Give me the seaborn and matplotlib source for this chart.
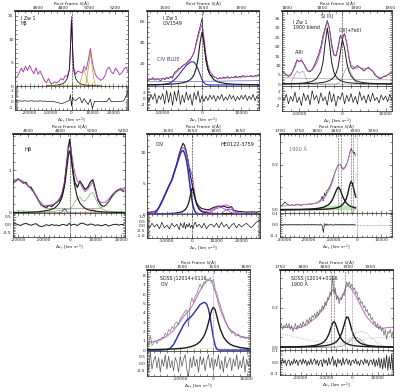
"""
Spectral fits of Hbeta, CIV 1549 and the 1900 A blend for I Zw 1,
HE0122-3759 and SDSS J12014+0116 (data + components + residuals).
"""

import numpy as np
import matplotlib
matplotlib.use("Agg")
import matplotlib.pyplot as plt
import seaborn as sns
from matplotlib.ticker import AutoMinorLocator

sns.set_theme(style="ticks")
plt.rcParams['font.family'] = ['DejaVu Sans']
plt.rcParams['axes.unicode_minus'] = False

C_KMS = 299792.458
FIG_W, FIG_H = 400, 392
TICK_FS = 3.2
LABEL_FS = 3.2
MAG = '#b044b8'
MAG_LIGHT = '#c47ac8'
BLUE = '#2a2ab8'
GREEN = '#6cc45c'
OLIVE = '#b8a030'
ORANGE = '#e8902a'
GRAY = '#8c8c8c'

# ---------------- I Zw 1, Hbeta ----------------
P1_V = np.r_[np.arange(-27000, 0, 1000), -500, 0, 500, np.arange(1000, 27001, 1000)]
P1_FLUX = [1.5, 2.0, 2.8, 3.8, 3.0, 4.2, 3.3, 4.4, 3.4, 2.6,
           3.9, 2.5, 3.2, 2.2, 1.2, 0.7, 1.6, 0.6, 0.5, 0.9,
           0.7, 1.0, 1.6, 1.3, 2.2, 2.0, 3.5,
           8.5, 14.8, 8.5,
           4.0, 2.5, 3.2, 3.0, 2.8, 4.2, 3.4, 5.5, 8.0, 5.0,
           3.0, 2.0, 1.6, 1.2, 1.5, 2.2, 3.6, 4.0, 3.0, 2.6,
           3.8, 3.2, 2.4, 2.8, 3.6, 4.0, 3.0]
P1_RES = [0.2, 0.15, 0.2, 0.1, 0.15, 0.2, 0.1, 0.15, 0.2, 0.1,
          0.15, 0.1, 0.2, 0.1, 0.15, 0.05, 0.1, 0.05, 0.1, 0.0,
          -0.1, -0.2, -0.3, -0.25, -0.1, 0.1, 0.3,
          1.3, -0.8, 0.9,
          0.4, 0.2, 0.6, 0.8, -0.2, 0.6, 0.0, -0.5, 0.5, -1.2,
          0.1, 0.05, 0.1, 0.05, 0.0, 0.05, 0.1, 0.7, 0.05, 0.0,
          0.05, 0.1, 0.05, 0.1, 0.2, 1.0, 2.0]
P1_CV = [-12000, -10000, -8000, -6000, -5000, -4000, -3000, -2000, -1000, -500,
         0, 500, 1000, 2000, 3000, 4000, 5000, 6000, 7000, 8000,
         9000, 10000, 11000, 12000, 14000]
P1_BROAD = [0.09, 0.11, 0.14, 0.25, 0.35, 0.55, 0.9, 1.6, 3.5, 8.0,
            14.0, 8.0, 3.5, 1.6, 0.9, 0.55, 0.35, 0.25, 0.18, 0.14,
            0.11, 0.09, 0.08, 0.07, 0.06]
P1_OIII_A = [0] * 14 + [0.0, 0.47, 2.1, 3.5, 2.1, 0.47, 0.04, 0, 0, 0, 0]
P1_OIII_B = [0] * 17 + [0.02, 0.6, 3.7, 7.0, 3.7, 0.6, 0.03, 0]

# ---------------- I Zw 1, CIV ----------------
P2_V = np.arange(-14000, 14501, 500)
P2_FLUX = [4, 6, 5, 7, 4.5, 6, 5, 4, 6.5, 5,
           7, 6, 8, 6.5, 12, 13, 15.5, 16, 18, 19.5,
           20, 22, 23.5, 27, 31, 40, 48, 55, 63, 38,
           22, 14, 10, 9, 7.5, 7, 5.5, 7, 6, 7.5,
           6.5, 8, 6.5, 7.5, 7, 8.5, 7, 8, 7.5, 9,
           7.5, 8.5, 8, 9, 7.5, 9, 8.5, 9]
P2_RES = [0.5, -1.0, 1.2, -0.5, 1.5, -1.8, 0.8, -0.5, 1.5, -2.0,
          2.5, -1.5, 1.8, -2.5, 2.2, -1.0, 2.8, -2.2, 1.0, -1.5,
          2.0, -0.8, 1.2, -2.5, 1.8, -0.6, 2.4, -1.6, 0.8, -1.2,
          0.6, -0.8, 1.0, -0.4, 0.9, -1.1, 0.7, -0.5, 1.2, -0.9,
          0.4, -0.7, 1.1, -0.3, 0.8, -1.0, 0.5, -0.6, 0.9, -0.4,
          1.0, -0.8, 0.6, -0.5, 1.2, -0.9, 0.7, -0.3]
P2_CV = [-14000, -12000, -10000, -8000, -7000, -6000, -5000, -4000, -3000, -2500,
         -2000, -1500, -1000, -500, 0, 500, 1000, 1500, 2000, 3000,
         4000, 6000, 8000, 10000, 12000, 14500]
P2_BLUE = [0, 0, 0.3, 2, 5, 9, 14, 18.5, 21.5, 22,
           21.5, 19, 15, 10, 5, 2, 0.5, 0.1, 0, 0,
           0, 0, 0, 0, 0, 0]
P2_BC = [0.25, 0.35, 0.5, 0.77, 1.0, 1.35, 1.9, 2.9, 5.0, 6.9,
         10, 15.4, 25, 40, 50, 40, 25, 15.4, 10, 5,
         2.9, 1.35, 0.77, 0.5, 0.35, 0.23]
P2_CONT = [3.0, 3.0, 3.1, 3.1, 3.2, 3.2, 3.2, 3.3, 3.3, 3.3,
           3.3, 3.4, 3.4, 3.4, 3.4, 3.5, 3.5, 3.5, 3.5, 3.6,
           3.6, 3.7, 3.8, 3.9, 4.0, 4.1]
P2_FIT = [5, 5.5, 6, 7, 10, 14, 17.5, 20.5, 24.5, 27.5,
          31.5, 38, 45, 52, 57, 45, 28, 18.5, 13, 8,
          6, 6.5, 7, 7.5, 8, 8.5]

# ---------------- I Zw 1, 1900 blend ----------------
P3_V = np.arange(-14000, 11501, 500)
P3_FLUX = [7, 6, 5, 4, 5, 7, 10, 13, 12, 13,
           11, 9, 7, 6.5, 8, 10, 13, 16, 20, 26,
           30, 34, 30, 22, 16, 15, 20, 26, 24, 27,
           22, 14, 9, 8, 9, 10, 9, 8, 7, 8,
           9, 8, 7, 5, 4, 3, 3, 4, 4, 5,
           6, 6]
P3_RES = [0.8, -0.5, 1.2, -1.5, 0.6, -0.8, 1.8, -1.2, 0.4, -2.0,
          1.5, -0.6, 1.0, -1.8, 2.2, -0.4, 0.9, -1.4, 1.6, -0.7,
          0.5, -1.9, 2.0, -1.0, 1.3, -2.2, 0.7, -0.3, 1.7, -1.5,
          0.9, -0.8, 1.4, -1.1, 0.6, -1.6, 1.9, -0.5, 0.8, -1.3,
          1.1, -0.9, 1.5, -0.6, 0.3, -1.2, 1.0, -0.4, 0.7, -0.9,
          1.2, -0.5]
P3_CV = [-14000, -13000, -12000, -11000, -10500, -10000, -9500, -9000, -8500, -8000,
         -7000, -6000, -5000, -4500, -4000, -3500, -3000, -2500, -2000, -1500,
         -1000, -500, 0, 500, 1000, 1500, 2000, 3000, 4000, 5000,
         6000, 7000, 8000, 9000, 10000, 11500]
P3_SIIII = [0.17, 0.21, 0.26, 0.34, 0.39, 0.45, 0.52, 0.62, 0.75, 0.92,
            1.5, 2.8, 6.6, 11.7, 21.6, 30, 21.6, 11.7, 6.6, 4.1,
            2.8, 2.0, 1.5, 1.15, 0.92, 0.75, 0.62, 0.45, 0.34, 0.26,
            0.21, 0.17, 0.15, 0.12, 0.11, 0.09]
P3_CIII = [0.1, 0.11, 0.13, 0.16, 0.17, 0.19, 0.21, 0.23, 0.26, 0.3,
           0.38, 0.52, 0.74, 0.91, 1.15, 1.5, 1.9, 2.6, 3.7, 5.5,
           9.0, 16.5, 23.8, 19.1, 11.6, 6.9, 4.4, 1.9, 1.2, 0.78,
           0.52, 0.38, 0.3, 0.24, 0.2, 0.15]
P3_ALIII = [0, 0, 0.3, 5.0, 7.0, 5.6, 6.6, 6.6, 3.6, 1.0] + [0] * 26
P3_FEIII = [0] * 19 + [0.05, 0.4, 1.5, 3.7, 6.6, 8.8, 8.5, 6.0, 1.2, 0.07, 0.0] + [0] * 6
P3_CONT = [3.4, 3.3, 3.3, 3.2, 3.2, 3.2, 3.1, 3.1, 3.1, 3.0,
           3.0, 2.9, 2.9, 2.9, 2.8, 2.8, 2.8, 2.8, 2.7, 2.7,
           2.7, 2.7, 2.6, 2.6, 2.6, 2.6, 2.5, 2.5, 2.5, 2.4,
           2.4, 2.4, 2.3, 2.3, 2.3, 2.2]
P3_FIT = [7, 5, 4.8, 9, 12.5, 12, 12.5, 11, 8.5, 6.8,
          7.5, 11, 18, 24, 29, 33.5, 29, 20, 15.5, 15,
          19, 25, 26, 26.5, 22, 15, 10, 8.5, 9, 8,
          8.5, 7, 4, 3.5, 4.5, 6]

# ---------------- Hbeta (row 2) ----------------
P4_V = np.r_[np.arange(-22000, 0, 1000), -500, 0, 500, np.arange(1000, 21001, 1000)]
P4_FLUX = [0.72, 0.75, 0.8, 0.75, 0.7, 0.72, 0.62, 0.6, 0.5, 0.4,
           0.28, 0.18, 0.15, 0.13, 0.18, 0.15, 0.2, 0.25, 0.3, 0.42,
           0.7, 1.25,
           1.55, 1.72, 1.5,
           1.1, 0.72, 0.6, 0.75, 0.65, 0.55, 0.6, 0.72, 0.78, 0.55,
           0.3, 0.2, 0.15, 0.18, 0.25, 0.35, 0.45, 0.5, 0.55, 0.55,
           0.5]
P4_RES = [0.05, 0.08, 0.02, -0.03, 0.06, 0.1, 0.04, -0.02, 0.05, 0.08,
          -0.05, -0.1, -0.06, 0.02, -0.04, 0.03, -0.02, 0.0, -0.05, 0.03,
          0.02, -0.04,
          0.06, 0.1, -0.03,
          0.02, 0.05, -0.04, 0.08, 0.12, 0.05, -0.02, 0.06, 0.04, -0.03,
          0.02, -0.05, -0.02, 0.04, -0.06, -0.02, 0.03, 0.05, -0.01, 0.03,
          0.04]
P4_CV = [-22000, -20000, -18000, -16000, -14000, -12000, -10000, -8000, -6000, -5000,
         -4000, -3000, -2500, -2000, -1500, -1000, -500, 0, 500, 1000,
         1500, 2000, 3000, 4000, 5000, 6000, 7000, 8000, 9000, 10000,
         11000, 12000, 14000, 16000, 18000, 20000, 21500]
P4_BC = [0.009, 0.011, 0.014, 0.017, 0.022, 0.03, 0.046, 0.066, 0.11, 0.16,
         0.23, 0.36, 0.48, 0.63, 0.84, 1.09, 1.34, 1.45, 1.34, 1.09,
         0.84, 0.63, 0.36, 0.23, 0.16, 0.11, 0.08, 0.066, 0.055, 0.046,
         0.037, 0.03, 0.022, 0.017, 0.014, 0.011, 0.01]
P4_FEII = [0.04, 0.05, 0.05, 0.04, 0.03, 0.02, 0.02, 0.03, 0.04, 0.05,
           0.06, 0.07, 0.07, 0.08, 0.08, 0.08, 0.09, 0.1, 0.12, 0.15,
           0.2, 0.26, 0.34, 0.38, 0.3, 0.28, 0.36, 0.45, 0.48, 0.35,
           0.2, 0.12, 0.05, 0.04, 0.03, 0.03, 0.03]
P4_BLUE = [0] * 11 + [0.025, 0.07, 0.1, 0.07, 0.025] + [0] * 21
P4_OIII = [0] * 27 + [0.01, 0.09, 0.01] + [0] * 7
P4_HOST = [0.68, 0.78, 0.72, 0.62, 0.48, 0.26, 0.12, 0.1, 0.1, 0.1,
           0.1, 0.1, 0.1, 0.1, 0.1, 0.1, 0.1, 0.1, 0.1, 0.1,
           0.1, 0.1, 0.1, 0.1, 0.1, 0.1, 0.1, 0.1, 0.1, 0.1,
           0.1, 0.12, 0.18, 0.33, 0.48, 0.55, 0.53]
P4_FIT = [0.72, 0.8, 0.74, 0.64, 0.5, 0.3, 0.17, 0.18, 0.21, 0.26,
          0.33, 0.47, 0.6, 0.74, 0.95, 1.22, 1.48, 1.6, 1.5, 1.3,
          1.1, 0.95, 0.74, 0.72, 0.58, 0.5, 0.55, 0.64, 0.72, 0.5,
          0.33, 0.25, 0.25, 0.39, 0.52, 0.58, 0.56]

# ---------------- HE0122-3759, CIV ----------------
P5_V = [-18000, -17000, -16000, -15000, -14000, -13000, -12000, -11000, -10000, -9000,
        -8000, -7000, -6000, -5000, -4500, -4000, -3500, -3000, -2500, -2000,
        -1500, -1000, -500, 0, 500, 1000, 1500, 2000, 3000, 4000,
        5000, 6000, 7000, 8000, 9000, 10000, 11000, 12000, 13000, 14000,
        15000, 16000, 17000, 18000, 19000, 20000, 22000, 24000, 26000, 27500]
P5_FLUX = [0.3, 0.2, 0.35, 0.4, 0.6, 1.2, 2.0, 2.9, 3.8, 4.7,
           5.5, 6.8, 8.2, 9.8, 10.4, 11.0, 11.5, 11.2, 10.6, 9.8,
           8.8, 7.5, 6.2, 5.2, 4.0, 3.0, 2.3, 1.8, 1.2, 0.9,
           0.8, 0.7, 0.7, 0.9, 1.1, 1.2, 1.3, 1.2, 1.3, 1.1,
           1.0, 1.2, 0.6, 0.5, 0.4, 0.4, 0.3, 0.35, 0.3, 0.4]
P5_RES = [0.1, -0.2, 0.3, -0.1, 0.2, -0.3, 0.4, -0.2, 0.1, -0.3,
          0.3, -0.1, 0.2, -0.4, 0.3, 0.1, -0.2, 0.4, -0.3, 0.2,
          -0.1, 0.3, -0.2, 0.1, -0.3, 0.2, 0.4, -0.1, 0.2, -0.2,
          0.3, -0.3, 0.1, 0.2, -0.1, 0.3, -0.2, 0.4, -0.1, 0.2,
          -0.3, 0.1, 0.3, -0.2, 0.2, -0.1, 0.3, -0.2, 0.4, 0.6]
P5_CV = [-18000, -16000, -15000, -14000, -13000, -12000, -11000, -10000, -9000, -8000,
         -7000, -6000, -5000, -4500, -4000, -3500, -3000, -2500, -2000, -1500,
         -1000, -500, 0, 500, 1000, 1500, 2000, 3000, 4000, 6000,
         8000, 10000, 12000, 14000, 16000, 18000, 20000, 24000, 27500]
P5_BLUE = [0, 0, 0.1, 0.5, 1.2, 2.0, 2.9, 3.8, 4.7, 5.5,
           6.8, 8.0, 9.3, 9.9, 10.2, 10.3, 10.0, 9.4, 8.5, 7.2,
           5.6, 4.0, 2.5, 1.4, 0.7, 0.3, 0.1, 0, 0, 0,
           0, 0, 0, 0, 0, 0, 0, 0, 0]
P5_BC = [0.022, 0.027, 0.031, 0.036, 0.041, 0.048, 0.056, 0.068, 0.083, 0.105,
         0.136, 0.18, 0.25, 0.3, 0.36, 0.45, 0.58, 0.76, 1.04, 1.48,
         2.15, 3.1, 4.07, 4.2, 3.33, 2.3, 1.55, 0.78, 0.4, 0.18,
         0.1, 0.068, 0.048, 0.036, 0.027, 0.022, 0.019, 0.013, 0.01]
P5_HEII = [0] * 29 + [0.09, 0.41, 0.92, 1.08, 0.67, 0.22, 0.04, 0, 0, 0]
P5_OIII = [0] * 32 + [0.12, 0.72, 0.72, 0.12, 0, 0, 0]
P5_FIT = [0.3, 0.35, 0.4, 0.6, 1.3, 2.1, 3.0, 3.9, 4.8, 5.6,
          6.95, 8.2, 9.6, 10.25, 10.6, 10.8, 10.6, 10.2, 9.6, 8.7,
          7.8, 7.1, 6.6, 5.6, 4.0, 2.6, 1.7, 0.9, 0.5, 0.4,
          0.65, 1.1, 1.3, 1.5, 1.0, 0.25, 0.1, 0.05, 0.05]

# ---------------- HE0122-3759, 1900 A ----------------
P6_V = [-32000, -31000, -30000, -29000, -28000, -27000, -26000, -25000, -24000, -23000,
        -22000, -21000, -20000, -19000, -18000, -17000, -16000, -15000,
        -14500, -14000, -13500, -13000, -12500, -12000,
        -11000, -10000, -9000, -8000,
        -7500, -7000, -6500, -6000, -5500, -5000, -4500, -4000, -3500, -3000,
        -2500, -2000, -1500, -1000, -800]
P6_FLUX = [0.015, 0.02, 0.035, 0.025, 0.02, 0.022, 0.02, 0.025, 0.022, 0.02,
           0.025, 0.022, 0.026, 0.025, 0.028, 0.03, 0.035, 0.045,
           0.06, 0.04, 0.075, 0.06, 0.085, 0.09,
           0.11, 0.14, 0.17, 0.195,
           0.2, 0.2, 0.19, 0.18, 0.18, 0.19, 0.2, 0.21, 0.23, 0.255,
           0.27, 0.26, 0.25, 0.255, 0.24]
P6_RES = [0.002, -0.003, 0.004, -0.002, 0.001, -0.002, 0.003, -0.001, 0.002, -0.003,
          0.001, 0.002, -0.002, 0.003, -0.001, 0.002, -0.004, 0.005,
          -0.01, -0.07, 0.01, -0.008, 0.006, -0.004,
          0.003, -0.005, 0.004, -0.002,
          0.003, -0.004, 0.002, -0.003, 0.004, -0.002, 0.001, -0.003, 0.002, -0.004,
          0.003, -0.002, 0.004, -0.003, 0.0]
P6_CV = [-32000, -28000, -24000, -20000, -18000, -16000, -14000, -12000, -11000, -10000,
         -9000, -8000, -7500, -7000, -6000, -5000, -4500, -4000, -3500, -3000,
         -2500, -2000, -1500, -1000, -500]
P6_SIIII = [0.0008, 0.0012, 0.0018, 0.0031, 0.0044, 0.0067, 0.0112, 0.0215, 0.032, 0.05,
            0.077, 0.099, 0.098, 0.088, 0.06, 0.038, 0.031, 0.025, 0.021, 0.017,
            0.015, 0.013, 0.011, 0.0095, 0.0083]
P6_CIII = [0.0004, 0.0006, 0.0008, 0.0012, 0.0015, 0.0019, 0.0026, 0.0038, 0.0047, 0.006,
           0.0078, 0.0105, 0.0125, 0.015, 0.023, 0.037, 0.049, 0.066, 0.088, 0.111,
           0.125, 0.118, 0.098, 0.074, 0.055]
P6_FEII = [0.01, 0.008, 0.006, 0.008, 0.01, 0.012, 0.015, 0.018, 0.02, 0.02,
           0.022, 0.022, 0.02, 0.02, 0.02, 0.02, 0.02, 0.02, 0.018, 0.018,
           0.02, 0.02, 0.02, 0.02, 0.02]
P6_FIT = [0.015, 0.02, 0.022, 0.025, 0.027, 0.032, 0.045, 0.08, 0.1, 0.13,
          0.17, 0.195, 0.2, 0.2, 0.185, 0.185, 0.195, 0.21, 0.23, 0.25,
          0.265, 0.26, 0.25, 0.25, 0.24]
P6_DOT_V = [-2500, -1500, -500, 0]
P6_DOT = [0.08, 0.11, 0.145, 0.165]
P6_VLINES = [-8000, -6500, -2500, -1500]

# ---------------- SDSS J12014+0116, CIV ----------------
P7_V = np.arange(-20000, 11001, 500)
P7_FLUX = [0.6, 0.4, 1.6, 0.5, 0.8, 1.0, 0.7, 1.2, 1.1, 1.4,
           1.3, 1.8, 1.6, 2.2, 2.0, 2.5, 2.3, 2.9, 3.0, 2.7,
           3.4, 3.6, 3.9, 4.2, 4.3, 2.5, 4.9, 5.6, 5.1, 5.8,
           6.0, 6.6, 7.1, 6.6, 7.3, 7.2, 7.6, 7.5, 7.8, 7.3,
           7.6, 6.5, 6.1, 5.4, 4.9, 4.2, 3.8, 3.2, 2.9, 2.3,
           2.2, 1.8, 2.0, 1.6, 1.5, 1.7, 1.4, 1.3, 1.5, 1.2,
           1.4, 1.3, 1.6]
P7_RES = [0.3, -0.5, 0.8, -0.4, 0.2, 0.5, -0.3, 0.4, -0.6, 0.3,
          -0.2, 0.6, -0.4, 0.5, -0.3, 0.2, -0.5, 0.4, 0.1, -0.6,
          0.5, -0.2, 0.3, 0.6, -0.4, -0.9, 0.4, -0.3, 0.5, -0.2,
          0.3, -0.6, 0.5, -0.1, 0.4, -0.5, 0.2, 0.6, -0.3, 0.4,
          -0.5, 0.3, -0.2, 0.6, -0.4, 0.2, -0.6, 0.5, -0.3, 0.1,
          0.4, -0.5, 0.3, -0.2, 0.6, -0.4, 0.2, -0.3, 0.5, -0.6,
          0.3, -0.2, 0.4]
P7_CV = [-20000, -18000, -16000, -14000, -13000, -12000, -11000, -10000, -9000, -8000,
         -7000, -6000, -5000, -4000, -3000, -2500, -2000, -1500, -1000, -500,
         0, 500, 1000, 1500, 2000, 3000, 4000, 5000, 6000, 8000,
         10000, 11000]
P7_BLUE = [0, 0, 0, 0.05, 0.2, 0.6, 1.3, 2.0, 2.7, 3.2,
           3.5, 3.9, 4.4, 4.9, 5.1, 5.1, 4.9, 4.4, 3.5, 2.4,
           1.3, 0.5, 0.1, 0, 0, 0, 0, 0, 0, 0,
           0, 0]
P7_BC = [0.045, 0.056, 0.07, 0.092, 0.106, 0.124, 0.146, 0.177, 0.21, 0.27,
         0.35, 0.46, 0.63, 0.92, 1.42, 1.79, 2.3, 2.94, 3.68, 4.33,
         4.6, 4.33, 3.68, 2.94, 2.3, 1.42, 0.92, 0.63, 0.46, 0.27,
         0.177, 0.146]
P7_FEII = [0.05, 0.06, 0.07, 0.08, 0.08, 0.09, 0.1, 0.1, 0.11, 0.12,
           0.12, 0.13, 0.13, 0.14, 0.14, 0.14, 0.15, 0.15, 0.15, 0.15,
           0.16, 0.16, 0.16, 0.15, 0.15, 0.14, 0.13, 0.12, 0.11, 0.1,
           0.09, 0.08]
P7_FIT = [0.8, 0.9, 1.1, 1.5, 1.8, 2.1, 2.6, 3.1, 3.6, 4.0,
          4.4, 5.0, 5.7, 6.4, 7.0, 7.2, 7.4, 7.5, 7.5, 7.3,
          6.9, 6.3, 5.7, 5.0, 4.4, 3.5, 2.7, 2.2, 1.9, 1.5,
          1.3, 1.25]

# ---------------- SDSS J12014+0116, 1900 A ----------------
P8_V = np.arange(-28000, 16001, 500)
P8_FLUX = [0.1, 0.12, 0.09, 0.11, 0.1, 0.12, 0.1,
           0.12, 0.09, 0.11, 0.08, 0.1, 0.12, 0.09, 0.11, 0.1, 0.12,
           0.1, 0.13, 0.11, 0.12, 0.14, 0.12, 0.15, 0.13, 0.16, 0.15,
           0.17, 0.15, 0.18, 0.16, 0.19, 0.18, 0.21, 0.19, 0.23, 0.21,
           0.25, 0.24, 0.28, 0.26, 0.36, 0.27, 0.3, 0.24, 0.26, 0.22,
           0.25, 0.24, 0.27, 0.26, 0.3, 0.33, 0.31, 0.33, 0.3, 0.32,
           0.29, 0.3, 0.27, 0.28, 0.24, 0.25, 0.22, 0.23, 0.2, 0.21,
           0.18, 0.19, 0.16, 0.17, 0.14, 0.15, 0.12, 0.13, 0.1, 0.12,
           0.09, 0.11, 0.08, 0.1, 0.06, 0.09, 0.04, 0.08,
           0.07, 0.09, 0.05, 0.08]
P8_RES = [0.02, -0.02, 0.03, -0.01, 0.02, -0.03, 0.01,
          0.02, -0.03, 0.01, -0.02, 0.03, -0.01, 0.02, -0.03, 0.01, 0.02,
          -0.02, 0.03, -0.01, 0.02, -0.03, 0.01, -0.02, 0.03, -0.02, 0.01,
          0.03, -0.02, 0.02, -0.03, 0.01, 0.02, -0.04, 0.03, -0.01, 0.02,
          -0.03, 0.04, -0.02, 0.01, 0.05, -0.03, 0.02, -0.04, 0.03, -0.01,
          0.02, -0.03, 0.04, -0.02, 0.01, 0.03, -0.02, 0.02, -0.03, 0.01,
          0.02, -0.01, 0.03, -0.02, 0.01, -0.03, 0.02, 0.01, -0.02, 0.03,
          -0.01, 0.02, -0.03, 0.01, 0.02, -0.02, 0.03, -0.04, 0.02, -0.03,
          0.04, -0.05, 0.03, -0.06, 0.04, -0.05, 0.06, -0.07,
          0.05, -0.06, 0.07, -0.08]
P8_CV = [-28000, -24500, -22000, -20000, -18000, -16000, -14000, -12000, -11000, -10000,
         -9000, -8000, -7500, -7000, -6500, -6000, -5000, -4000, -3000, -2500,
         -2000, -1500, -1000, -500, 0, 500, 1000, 1500, 2000, 3000,
         4000, 5000, 6000, 8000, 10000, 12000, 14000, 16000]
P8_ALIII = [0.0013, 0.0017, 0.0023, 0.003, 0.0042, 0.0062, 0.0098, 0.018, 0.026, 0.04,
            0.065, 0.104, 0.122, 0.13, 0.122, 0.104, 0.065, 0.04, 0.026, 0.0216,
            0.018, 0.0153, 0.013, 0.0113, 0.0098, 0.0086, 0.0076, 0.0068, 0.0062, 0.005,
            0.0042, 0.0035, 0.003, 0.0023, 0.0018, 0.0014, 0.0012, 0.001]
P8_SIIII = [0.0009, 0.0012, 0.0015, 0.0019, 0.0023, 0.003, 0.0041, 0.0057, 0.007, 0.0087,
            0.0111, 0.0146, 0.0171, 0.0199, 0.0238, 0.0286, 0.0436, 0.0704, 0.114, 0.138,
            0.153, 0.151, 0.134, 0.109, 0.0856, 0.0667, 0.0523, 0.0416, 0.0335, 0.0228,
            0.0165, 0.0123, 0.0096, 0.0062, 0.0043, 0.0032, 0.0024, 0.0019]
P8_CIII = [0] * 15 + [0.0005, 0.0017, 0.0044, 0.0099, 0.0139, 0.0187,
                      0.0243, 0.0303, 0.0363, 0.0418, 0.0462, 0.049, 0.05, 0.049, 0.0418,
                      0.0303, 0.0187, 0.0099, 0.0017, 0.0002, 0, 0, 0]
P8_FEIII = [0, 0, 0, 0, 0, 0, 0, 0, 0.0001, 0.0003,
            0.0006, 0.0013, 0.0018, 0.0025, 0.0035, 0.0048, 0.0084, 0.0138, 0.0214, 0.026,
            0.031, 0.037, 0.043, 0.049, 0.055, 0.061, 0.066, 0.071, 0.075, 0.079,
            0.079, 0.074, 0.066, 0.043, 0.021, 0.008, 0.0026, 0.0008]
P8_FEII = [0.065, 0.06, 0.05, 0.045, 0.04, 0.035, 0.03, 0.028, 0.026, 0.025,
           0.024, 0.023, 0.022, 0.022, 0.022, 0.022, 0.022, 0.022, 0.023, 0.024,
           0.025, 0.026, 0.027, 0.028, 0.03, 0.031, 0.032, 0.033, 0.034, 0.036,
           0.038, 0.04, 0.042, 0.045, 0.048, 0.05, 0.052, 0.054]
P8_FIT = [0.1, 0.1, 0.095, 0.1, 0.11, 0.13, 0.15, 0.18, 0.2, 0.22,
          0.25, 0.28, 0.29, 0.29, 0.28, 0.26, 0.24, 0.25, 0.28, 0.3,
          0.31, 0.31, 0.305, 0.3, 0.29, 0.28, 0.27, 0.26, 0.245, 0.22,
          0.195, 0.17, 0.15, 0.12, 0.1, 0.095, 0.1, 0.1]
P8_VLINES = [-8000, -7000, -2500]


def px_rect(left, top, right, bottom):
    """Pixel box (from top-left) -> figure fraction rect."""
    return [left / FIG_W, 1 - bottom / FIG_H, (right - left) / FIG_W, (bottom - top) / FIG_H]


def line(ax, x, y, color, lw=0.6, ls='-'):
    sns.lineplot(x=np.asarray(x, float), y=np.asarray(y, float), ax=ax, color=color,
                 lw=lw, ls=ls, estimator=None, sort=False)


def style_axis(ax):
    ax.tick_params(which='both', direction='in', width=0.4, labelsize=TICK_FS,
                   top=False, right=True)
    ax.tick_params(axis='x', pad=0.8)
    ax.tick_params(axis='y', pad=1.0)
    ax.tick_params(which='major', length=2.2)
    ax.tick_params(which='minor', length=1.2)
    ax.xaxis.set_minor_locator(AutoMinorLocator())
    ax.yaxis.set_minor_locator(AutoMinorLocator())
    for sp in ax.spines.values():
        sp.set_linewidth(0.5)
        sp.set_color('k')
    ax.set_xlabel('')
    ax.set_ylabel('')


def make_panel(fig, box, split, xlim, xticks, lam_ref, lam_ticks, ylim, yticks, rylim, rticks):
    """lam_ref = (wavelength at v=0, Angstrom per km/s) for the top axis."""
    left, top, right, bottom = box
    l0, disp = lam_ref
    ax = fig.add_axes(px_rect(left, top, right, split))
    rax = fig.add_axes(px_rect(left, split, right, bottom), sharex=ax)
    ax.set_xlim(xlim)
    ax.set_ylim(ylim)
    rax.set_ylim(rylim)
    ax.set_xticks(xticks)
    ax.set_yticks(yticks)
    rax.set_yticks(rticks)
    style_axis(ax)
    style_axis(rax)
    rax.tick_params(which='both', top=True)
    ax.tick_params(axis='x', labelbottom=False)

    sec = ax.secondary_xaxis('top', functions=(lambda v: l0 + disp * v,
                                               lambda l: (l - l0) / disp))
    sec.set_xticks(lam_ticks)
    sec.xaxis.set_minor_locator(AutoMinorLocator())
    sec.tick_params(which='both', direction='in', width=0.4, labelsize=TICK_FS, pad=0.8)
    sec.tick_params(which='major', length=2.2)
    sec.tick_params(which='minor', length=1.2)
    sec.set_xlabel('Rest Frame λ[Å]', fontsize=LABEL_FS, labelpad=0.4)
    rax.set_xlabel(r'Δv$_r$ [km s$^{-1}$]', fontsize=LABEL_FS, labelpad=0.3)
    return ax, rax


def label(ax, x, y, s, color='k', ha='left', size=3.4):
    ax.text(x, y, s, transform=ax.transAxes, fontsize=size, color=color,
            ha=ha, va='top', linespacing=1.05)


fig = plt.figure(figsize=(FIG_W / 100, FIG_H / 100), dpi=100)

# ---- panel 1: I Zw 1 Hbeta ----
ax, rax = make_panel(fig, (15, 11, 128, 110), 86, (-27000, 27000),
                     [-20000, -10000, 0, 10000, 20000], (4861, 4861 / C_KMS),
                     [4600, 4800, 5000, 5200],
                     (0, 16), [0, 5, 10, 15], (-1.5, 2.9), [-1, 0, 1, 2])
line(ax, P1_V, P1_FLUX, MAG, 0.7)
line(ax, P1_CV, P1_BROAD, 'k', 0.6)
line(ax, P1_CV, P1_OIII_A, OLIVE, 0.5)
line(ax, P1_CV, P1_OIII_B, OLIVE, 0.5)
ax.axvline(0, color='k', ls='--', lw=0.4)
line(rax, P1_V, P1_RES, 'k', 0.5)
rax.axvline(0, color='k', ls='--', lw=0.4)
label(ax, 0.05, 0.93, 'I Zw 1\nHβ')

# ---- panel 2: I Zw 1 CIV ----
ax, rax = make_panel(fig, (147, 11, 259, 110), 86, (-14000, 14500),
                     [-10000, 0, 10000], (1549, 1549 / C_KMS), [1500, 1550, 1600],
                     (-1, 70), [20, 40, 60], (-4, 4), [-2, 0, 2])
line(ax, P2_V, P2_FLUX, 'k', 0.5)
line(ax, P2_CV, P2_FIT, MAG, 0.6)
line(ax, P2_CV, P2_CONT, '#6a6ac8', 0.5)
line(ax, P2_CV, P2_BLUE, BLUE, 0.8)
line(ax, P2_CV, P2_BC, 'k', 0.8)
ax.axvline(0, color='k', ls='--', lw=0.4)
line(rax, P2_V, P2_RES, 'k', 0.5)
rax.axvline(0, color='k', ls='--', lw=0.4)
label(ax, 0.14, 0.93, 'I Zw 1\nCIV1549')
ax.text(-11500, 23, 'CIV BLUE', fontsize=3.6, color='#3a3a9a')

# ---- panel 3: I Zw 1 1900 blend ----
ax, rax = make_panel(fig, (282, 11, 392, 111), 86, (-14000, 11500),
                     [-10000, 0, 10000], (1880, 1880 / C_KMS), [1800, 1850, 1900, 1950],
                     (-1, 39), [0, 5, 10, 15, 20, 25, 30, 35], (-3.5, 3.5), [-2, 0, 2])
line(ax, P3_V, P3_FLUX, 'k', 0.5)
line(ax, P3_CV, P3_FIT, MAG, 0.6)
line(ax, P3_CV, P3_CONT, GRAY, 0.4)
line(ax, P3_CV, P3_ALIII, GRAY, 0.4)
line(ax, P3_CV, P3_FEIII, GRAY, 0.4)
line(ax, P3_CV, P3_SIIII, 'k', 0.7)
line(ax, P3_CV, P3_CIII, 'k', 0.7)
ax.axvline(0, color='k', ls='--', lw=0.4)
line(rax, P3_V, P3_RES, 'k', 0.5)
label(ax, 0.1, 0.88, 'I Zw 1\n1900 blend')
ax.text(-10000, 16, 'AlIII', fontsize=3.4, ha='center')
ax.text(-3500, 35.5, 'Si III]', fontsize=3.4, ha='center')
ax.text(1800, 28, 'CIII]+FeIII', fontsize=3.4, ha='center')

# ---- panel 4: Hbeta ----
ax, rax = make_panel(fig, (13, 134, 125, 237), 213, (-22000, 21500),
                     [-20000, -10000, 0, 10000, 20000], (4861, 4861 / C_KMS),
                     [4600, 4800, 5000, 5200],
                     (0, 1.85), [0, 1], (-0.75, 0.75), [-0.5, 0, 0.5])
line(ax, P4_V, P4_FLUX, 'k', 0.9)
line(ax, P4_CV, P4_HOST, GRAY, 0.5)
line(ax, P4_CV, P4_FIT, MAG, 0.6)
line(ax, P4_CV, P4_FEII, GREEN, 0.5)
line(ax, P4_CV, P4_BLUE, BLUE, 0.6)
line(ax, P4_CV, P4_OIII, ORANGE, 0.6)
line(ax, P4_CV, P4_BC, 'k', 0.8)
ax.axvline(0, color='k', ls='--', lw=0.4)
line(rax, P4_V, P4_RES, 'k', 0.7)
rax.axvline(0, color='k', ls='--', lw=0.4)
label(ax, 0.1, 0.84, 'Hβ', size=3.8)

# ---- panel 5: HE0122-3759 CIV ----
ax, rax = make_panel(fig, (147, 134, 260, 238), 214, (-18000, 27500),
                     [-10000, 0, 10000, 20000], (1549, 1549 / C_KMS),
                     [1450, 1500, 1550, 1600, 1650, 1700],
                     (0, 13), [0, 5, 10], (-1.3, 1.3), [-1, -0.5, 0, 0.5, 1])
line(ax, P5_V, P5_FLUX, 'k', 0.8)
line(ax, P5_CV, P5_FIT, MAG, 0.6)
line(ax, P5_CV, P5_BLUE, BLUE, 1.1)
line(ax, P5_CV, P5_BC, 'k', 0.9)
line(ax, P5_CV, P5_HEII, '#8a4ac8', 0.6)
line(ax, P5_CV, P5_OIII, '#8a4ac8', 0.6)
ax.axvline(0, color='k', ls='--', lw=0.4)
line(rax, P5_V, P5_RES, 'k', 0.5)
rax.axvline(0, color='k', ls='--', lw=0.4)
label(ax, 0.08, 0.9, 'CIV', size=3.6)
label(ax, 0.95, 0.9, 'HE0122-3759', ha='right', size=3.6)

# ---- panel 6: HE0122-3759 1900 A ----
ax, rax = make_panel(fig, (280, 134, 392, 237), 213, (-32000, 14500),
                     [-30000, -20000, -10000, 0, 10000], (1906, 0.00645),
                     [1700, 1750, 1800, 1850, 1900, 1950, 2000],
                     (-0.014, 0.335), [0, 0.2], (-0.112, 0.105), [-0.1, 0, 0.1])
ax.fill_between(P6_CV, 0, P6_FEII, color='#b4e0a0', alpha=0.8, lw=0)
line(ax, P6_V, P6_FLUX, 'k', 0.5)
line(ax, P6_CV, P6_FIT, MAG_LIGHT, 0.6)
line(ax, P6_CV, P6_SIIII, 'k', 1.0)
line(ax, P6_CV, P6_CIII, 'k', 1.0)
line(ax, P6_DOT_V, P6_DOT, GRAY, 0.5, ':')
for xv in P6_VLINES:
    ax.axvline(xv, color='#555555', ls='--', lw=0.4)
ax.axvline(0, color=GRAY, ls='--', lw=0.4)
line(rax, P6_V, P6_RES, 'k', 0.5)
rax.axhline(0, color=GRAY, ls='--', lw=0.4)
rax.axvline(0, color=GRAY, ls='--', lw=0.4)
label(ax, 0.08, 0.84, '1900 Å', color='#707070', size=3.6)

# ---- panel 7: SDSS J12014+0116 CIV ----
ax, rax = make_panel(fig, (147, 270, 250, 376), 351, (-20000, 11000),
                     [-10000, 0, 10000], (1549, 1549 / C_KMS), [1450, 1500, 1550, 1600],
                     (-0.1, 8.6), [0, 1, 2, 3, 4, 5, 6, 7, 8], (-0.85, 0.85), [-0.5, 0, 0.5])
line(ax, P7_CV, P7_FIT, MAG_LIGHT, 0.8)
line(ax, P7_V, P7_FLUX, '#7a7a7a', 0.5)
line(ax, P7_CV, P7_FEII, OLIVE, 0.5, ':')
line(ax, P7_CV, P7_BLUE, BLUE, 1.0)
line(ax, P7_CV, P7_BC, 'k', 1.0)
ax.axvline(0, color=GRAY, ls='--', lw=0.4)
line(rax, P7_V, P7_RES, '#555555', 0.5)
rax.axvline(0, color=GRAY, ls='--', lw=0.4)
label(ax, 0.13, 0.92, 'SDSS J12014+0116\nCIV')

# ---- panel 8: SDSS J12014+0116 1900 A ----
ax, rax = make_panel(fig, (280, 270, 393, 375), 350, (-28000, 16000),
                     [-20000, -10000, 0, 10000], (1909, 0.00568),
                     [1750, 1800, 1850, 1900, 1950, 2000],
                     (-0.014, 0.39), [0, 0.2], (-0.11, 0.105), [-0.1, 0, 0.1])
line(ax, P8_CV, P8_FIT, MAG_LIGHT, 0.8)
line(ax, P8_V, P8_FLUX, '#6a6a6a', 0.5)
line(ax, P8_CV, P8_FEII, GREEN, 0.5, ':')
line(ax, P8_CV, P8_FEIII, GRAY, 0.5, ':')
line(ax, P8_CV, P8_CIII, GRAY, 0.5)
line(ax, P8_CV, P8_ALIII, 'k', 1.0)
line(ax, P8_CV, P8_SIIII, 'k', 1.0)
for xv in P8_VLINES:
    ax.axvline(xv, color='#555555', ls='--', lw=0.4)
ax.axvline(0, color=GRAY, ls='--', lw=0.4)
line(rax, P8_V, P8_RES, 'k', 0.5)
label(ax, 0.1, 0.92, 'SDSS J12014+0116\n1900 Å')

fig.savefig('out.png', dpi=100)
